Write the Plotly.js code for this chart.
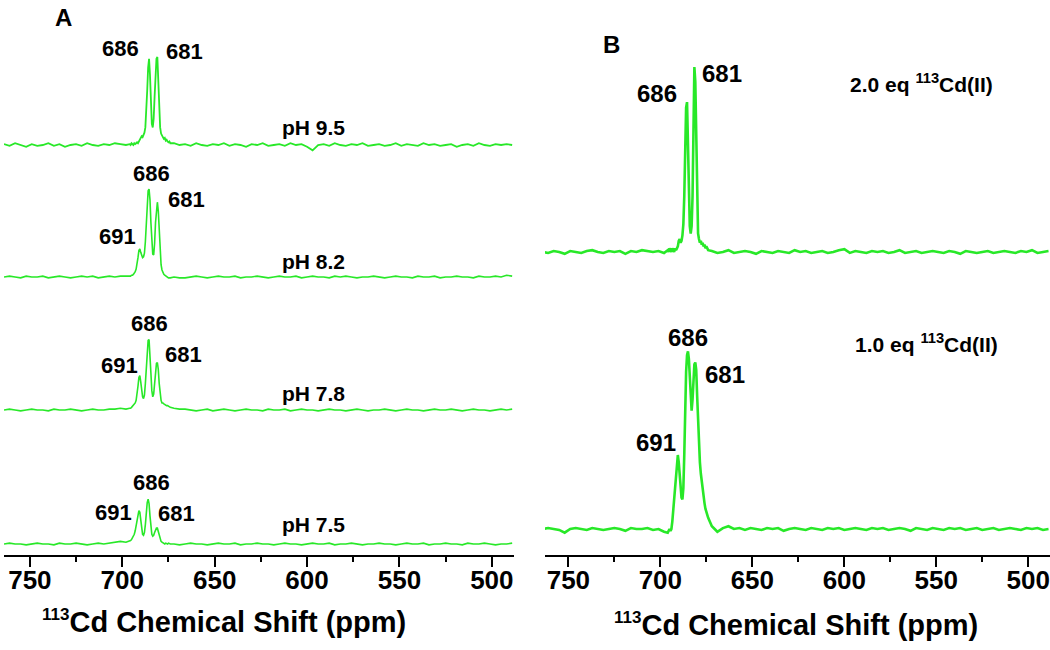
<!DOCTYPE html>
<html>
<head>
<meta charset="utf-8">
<script src="https://cdn.plot.ly/plotly-3.0.1.min.js"></script>
<style>
  html, body { margin: 0; padding: 0; background: #fff; }
  #chart { width: 1050px; height: 650px; }
</style>
</head>
<body>
<div id="chart"></div>
<script>
// ---------- data (113Cd chemical shift in ppm, relative intensity) ----------
const ppm = [
  764,761,758,755,752,749,746,743,740,737, 734,731,728,725,722,719,716,713,710,707, 704,701,698,
  696,695.5,695,694.5,694,693.5,693,692.5,692,691.5, 691,690.5,690,689.5,689,688.5,688,687.5,687,686.5,
  686,685.5,685,684.5,684,683.5,683,682.5,682,681.5, 681,680.5,680,679.5,679,678.5,678,677.5,677,676.5,
  676,675.5,675,674.5,674,
  672,669,666,663,660,657,654,651,648,645, 642,639,636,633,630,627,624,621,618,615,
  612,609,606,603,600,597,594,591,588,585, 582,579,576,573,570,567,564,561,558,555,
  552,549,546,543,540,537,534,531,528,525, 522,519,516,513,510,507,504,501,498,495, 492,489
];

// Panel A: pH series
const ph95 = [
  1,-1,2,0,-2,1,-1,0,2,-1, 1,-2,0,1,-1,2,0,-1,1,0, 2,1,0,
  1,0,2,1,0,2,1,2,3,2, 4,5,8,10,9,11,14,20,35,62, 88,98,80,45,24,20,30,55,85,98,
  100,75,40,20,13,10,9,7,8,5, 6,4,3,4,2,
  2,0,1,-1,2,0,-1,1,0,2, -1,1,0,-2,1,0,2,-1,0,1, -1,2,0,1,-2,-6,0,1,-1,2,
  0,-1,1,0,2,-1,0,1,-1,0, 2,-1,1,0,-1,2,0,1,-1,0, 1,-2,0,1,-1,2,0,-1,1,0, 1,0
];
const ph82 = [
  0,1,0,-1,1,0,0,1,-1,0, 1,0,-1,0,1,0,1,-1,0,1, 0,1,1,
  1,1,2,2,3,4,6,9,14,22, 30,32,28,24,22,23,27,40,62,85, 98,100,88,62,38,26,25,38,62,80,
  85,75,52,28,14,8,5,3,2,1, 0,0,-1,-1,-1,
  0,-1,-1,0,1,0,-1,0,1,0, 0,1,-1,0,0,1,0,-1,0,1, 0,0,1,-1,0,1,0,0,-1,1,
  0,1,0,-1,0,0,1,0,-1,0, 1,0,0,-1,1,0,0,1,-1,0, 0,1,0,0,-1,1,0,0,1,0, 2,1
];
const ph78 = [
  0,1,0,-1,0,1,0,0,-1,1, 0,0,1,0,-1,0,1,0,0,1, 1,2,1,
  2,2,3,4,5,6,8,11,17,27, 37,39,32,22,15,13,17,30,50,68, 79,80,66,42,22,15,18,30,45,53,
  54,46,30,17,11,8,8,7,6,6, 5,5,4,3,3,
  2,1,1,0,-1,0,1,-1,0,1, 0,-1,0,1,0,0,-1,1,0,0, 1,-1,0,1,0,0,-1,0,1,0,
  0,-1,0,1,0,-1,0,0,1,0, -1,0,1,0,0,-1,0,1,0,0, 1,0,-1,0,1,0,0,-1,0,1, 0,1
];
const ph75 = [
  0,1,0,0,-1,0,1,0,0,-1, 1,0,0,1,0,-1,0,1,0,1, 2,3,2,
  3,4,5,7,9,11,15,21,28,35, 38,36,27,17,11,10,13,22,36,47, 51,46,32,18,11,9,10,13,16,18,
  18,14,9,5,3,2,1,1,0,1, 0,0,1,0,0,
  0,-1,0,1,0,0,-1,0,1,0, 0,1,-1,0,0,1,0,0,-1,0, 1,0,0,-1,0,1,0,0,1,-1,
  0,0,1,0,-1,0,0,1,0,0, -1,0,1,0,0,1,-1,0,0,1, 0,0,-1,1,0,0,1,0,-1,0, 0,1
];

// Panel B: equivalents of 113Cd(II)
const eq20 = [
  0,-0.5,0.5,0,-1,0.5,0,-0.5,0.5,1, 0,-0.5,0.5,0,0.5,-1,0.5,0,1,0.5, 0,0.5,-0.5,
  1,0,2,1,0,2,1,0,2,1, 2,3,6,7,5,6,9,15,30,55, 78,81,62,30,14,10,14,30,70,100,
  92,55,22,10,7,5,6,4,5,3, 4,2,3,2,1,
  0.5,-0.5,0,1,-0.5,0,0.5,0,-1,0.5, 0,-0.5,0.5,0,-0.5,1,0,0.5,-0.5,0, 0.5,-0.5,0,1,1.5,-0.5,0.5,0,-0.5,0.5,
  0,0.5,-0.5,0,1,-0.5,0,0.5,-0.5,0, 0.5,0,-0.5,0.5,0,-1,0.5,0,-0.5,0, 0.5,-0.5,0,0.5,0,-0.5,0.5,0,1,-0.5, 0,0.5
];
const eq10 = [
  0,0.5,0,-0.5,-2,0,0.5,0,-0.5,0.5, 0,-0.5,0,0.5,0,-1,0.5,0,0,0.5, -0.5,0,-1.5,
  -2,-1,0,-1,0,4,10,17,25,32, 38,40,36,28,21,17,16,22,40,65, 85,94,96,92,80,68,64,70,82,89,
  90,86,72,56,45,36,30,25,21,17, 14,11,9,8,6,
  1.5,-1.5,0.5,1.5,0,0.5,-0.5,0.5,0,-0.5, 0.5,0,0.5,-1,0,0.5,0,-0.5,0.5,0, -0.5,0.5,0,0.5,-0.5,0,0.5,0,-0.5,0.5,
  0,0.5,-0.5,0,0.5,0,-1,0.5,0,-0.5, 0.5,0,-0.5,0.5,0,0.5,-0.5,0,0.5,-0.5, 0,0.5,-0.5,0,0.5,0,-0.5,0.5,0,0.5, -0.5,0
];

const tickVals = [750, 700, 650, 600, 550, 500];
const tickText = ['750', '700', '650', '600', '550', '500'];
const minorTickVals = [725, 675, 625, 575, 525];

// ---------- styling / layout ----------
const W = 1050, H = 650;
const px = x => x / W;
const py = y => 1 - y / H;
const GREEN = 'rgb(40,232,40)';
const FONT = 'Liberation Sans, Arial, Helvetica, sans-serif';

function trace(y, xa, ya, w) {
  return { x: ppm, y: y, xaxis: xa, yaxis: ya, type: 'scatter', mode: 'lines',
           line: { color: GREEN, width: w }, hoverinfo: 'skip', showlegend: false };
}
const data = [
  trace(ph95, 'x', 'y', 1.8),
  trace(ph82, 'x', 'y2', 1.6),
  trace(ph78, 'x', 'y3', 1.6),
  trace(ph75, 'x', 'y4', 1.6),
  trace(eq20, 'x2', 'y5', 2.6),
  trace(eq10, 'x2', 'y6', 2.6)
];

// y subplot: baseline pixel b, pixels above (up), below (down), px per unit (s)
function yax(b, up, down, s, xa) {
  return { domain: [py(b + down), py(b - up)], range: [-down / s, up / s],
           visible: false, fixedrange: true, anchor: xa };
}
const sA = 0.88, sB = 1.85;

function xax(d0, d1, r0, r1) {
  return {
    domain: [px(d0), px(d1)], range: [r0, r1], anchor: 'free', position: py(556),
    showline: true, linecolor: '#000', linewidth: 2, mirror: false,
    showgrid: false, zeroline: false,
    ticks: 'outside', ticklen: 10, tickwidth: 2, tickcolor: '#000',
    ticklabelstandoff: -9,
    tickmode: 'array', tickvals: tickVals, ticktext: tickText,
    tickfont: { family: FONT, size: 26, weight: 'bold', color: '#000' },
    minor: { tickmode: 'array', tickvals: minorTickVals, ticks: 'outside',
             ticklen: 5, tickwidth: 2, tickcolor: '#000', showgrid: false },
    fixedrange: true
  };
}

function ann(text, x, y, size) {
  return { text: text, x: px(x), y: py(y), xref: 'paper', yref: 'paper',
           xanchor: 'center', yanchor: 'middle', showarrow: false,
           font: { family: FONT, size: size, color: '#000', weight: 'bold' } };
}
const axisTitle = '<sup><span style="font-size:17px">113</span></sup>Cd Chemical Shift (ppm)';

const annotations = [
  ann('A', 63, 18, 24),
  ann('B', 611, 44, 24),
  // pH 9.5
  ann('686', 120, 48, 22), ann('681', 184, 52, 22), ann('pH 9.5', 313, 127, 21),
  // pH 8.2
  ann('686', 151, 173, 22), ann('681', 186, 199, 22), ann('691', 117, 237, 22), ann('pH 8.2', 313, 261, 21),
  // pH 7.8
  ann('686', 149, 323, 22), ann('681', 183, 355, 22), ann('691', 119, 365, 22), ann('pH 7.8', 313, 393, 21),
  // pH 7.5
  ann('686', 151, 482, 22), ann('681', 176, 513, 22), ann('691', 113, 512, 22), ann('pH 7.5', 313, 524, 21),
  // 2.0 eq
  ann('686', 657, 93, 24), ann('681', 722, 74, 24), ann('2.0 eq <sup>113</sup>Cd(II)', 922, 83, 21),
  // 1.0 eq
  ann('686', 688, 337, 24), ann('681', 725, 375, 24), ann('691', 656, 442, 24), ann('1.0 eq <sup>113</sup>Cd(II)', 926, 343, 21),
  // axis titles
  ann(axisTitle, 224, 621, 29),
  ann(axisTitle, 796, 624, 29)
];

const layout = {
  width: W, height: H,
  margin: { l: 0, r: 0, t: 0, b: 0, pad: 0 },
  paper_bgcolor: '#fff', plot_bgcolor: 'rgba(0,0,0,0)',
  showlegend: false,
  xaxis: xax(4, 514, 764, 488),
  xaxis2: xax(545, 1050, 762.7, 488.2),
  yaxis: yax(145, 110, 10, sA, 'x'),
  yaxis2: yax(277, 110, 10, sA, 'x'),
  yaxis3: yax(410, 110, 10, sA, 'x'),
  yaxis4: yax(544, 110, 10, sA, 'x'),
  yaxis5: yax(252, 205, 12, sB, 'x2'),
  yaxis6: yax(529, 205, 12, sB, 'x2'),
  annotations: annotations
};

Plotly.newPlot('chart', data, layout, { staticPlot: true, displayModeBar: false });
</script>
</body>
</html>
